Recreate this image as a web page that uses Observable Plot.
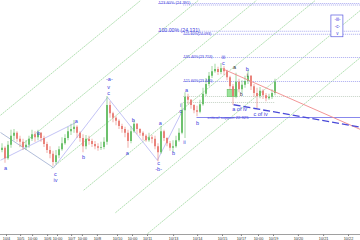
<!DOCTYPE html>
<html><head><meta charset="utf-8">
<script src="https://cdn.jsdelivr.net/npm/d3@7"></script>
<script src="https://cdn.jsdelivr.net/npm/@observablehq/plot@0.6"></script>
<style>body{margin:0;background:#fff;overflow:hidden}svg{display:block}</style>
</head><body><div id="chart"></div>
<script>
// ---- price bars (bar index = position in arrays) ----
const firstOpen = 22.53;
const closes = [22.56,22.42,22.60,22.72,22.76,22.68,22.64,22.57,22.60,22.68,
 22.74,22.70,22.76,22.69,22.61,22.53,22.48,22.37,22.46,22.54,
 22.62,22.69,22.78,22.81,22.84,22.76,22.69,22.58,22.68,22.65,
 22.61,22.58,22.56,22.57,22.64,23.13,23.02,22.96,22.92,22.85,
 22.81,22.76,22.65,22.78,22.88,22.81,22.76,22.72,22.66,22.70,
 22.68,22.58,22.50,22.78,22.69,22.62,22.56,22.58,22.66,22.76,
 23.06,23.24,23.20,23.13,23.06,23.04,23.14,23.28,23.41,23.52,
 23.58,23.61,23.57,23.62,23.58,23.50,23.38,23.25,23.44,23.34,
 23.40,23.45,23.52,23.38,23.29,23.25,23.32,23.26,23.22,23.24,
 23.29,23.44];
const highs = [22.62,22.58,22.65,22.80,22.81,22.78,22.72,22.68,22.66,22.72,
 22.80,22.78,22.80,22.77,22.72,22.64,22.58,22.52,22.53,22.58,
 22.70,22.74,22.84,22.88,22.93,22.86,22.78,22.74,22.73,22.72,
 22.68,22.65,22.62,22.64,22.70,23.25,23.18,23.04,22.98,22.94,
 22.88,22.84,22.80,22.85,22.93,22.89,22.82,22.78,22.74,22.76,
 22.73,22.72,22.62,22.85,22.80,22.70,22.65,22.66,22.72,22.82,
 23.16,23.30,23.28,23.21,23.14,23.12,23.20,23.36,23.49,23.57,
 23.65,23.68,23.64,23.69,23.65,23.60,23.52,23.41,23.56,23.48,
 23.46,23.52,23.60,23.53,23.41,23.36,23.37,23.34,23.29,23.28,
 23.34,23.48];
const lows = [22.50,22.36,22.40,22.56,22.66,22.64,22.58,22.53,22.53,22.56,
 22.65,22.64,22.66,22.64,22.57,22.49,22.42,22.32,22.34,22.42,
 22.52,22.60,22.66,22.73,22.76,22.69,22.64,22.50,22.54,22.60,
 22.57,22.54,22.52,22.53,22.54,22.60,22.96,22.90,22.86,22.81,
 22.76,22.70,22.56,22.62,22.76,22.74,22.72,22.66,22.64,22.64,
 22.62,22.54,22.38,22.48,22.65,22.58,22.52,22.50,22.56,22.64,
 22.74,22.69,23.14,23.08,23.02,22.98,23.02,23.12,23.25,23.38,
 23.49,23.56,23.53,23.54,23.53,23.46,23.33,23.13,23.22,23.30,
 23.29,23.36,23.41,23.33,23.24,23.09,23.22,23.21,23.18,23.20,
 23.21,23.26];

// ---- x axis ----
const tickBars = [1.5,6.2,10.2,15.2,18.5,23.2,26.8,31.8,38.5,43.5,48.5,57.2,65.2,73.5,79.8,85.5,90.5,98.8,107.2,115.5];
const tickLabels = ["10/4","10/5","10:00","10/6","10:00","10/7","10:00","10/8","10/10","10:00","10/11","10/13","10/14","10/15","10/17","10:00","10/19","10/20","10/21","10/22"];

// ---- fibonacci levels ----
const levelPrices = [24.49, 24.47, 24.12, 24.08, 23.77, 23.45];
const levelStart  = [52.2, 60.5, 52.2, 60.5, 60.5, 60.5];
const levelText   = ["123.60% (24.391)", "", "100.00% (24.131)", "121.60%(24.093)", "135.40%(23.753)", "121.60%(23.440)"];
const levelLabelPrice = [24.49, 24.47, 24.12, 24.08, 23.77, 23.45];
const levelSize   = [4, 4, 5.2, 3.6, 3.8, 3.8];
const greyLevels  = [23.25, 23.17];
const greyEnd     = [119.5, 91];
const supportPrice = 22.97;
const supportStart = 65;
const supportText = "critical support 22.925";

// ---- fan lines (green) ----
const fanStartBar   = [-0.5, 5.8, 16.5, 27.2, 37.8, 48.5];
const fanStartPrice = [23.00, 22.58, 22.29, 22.00, 21.70, 21.42];
const fanEndBar     = [46.2, 65.4, 84.8, 104.4, 119.5, 119.5];
const fanEndPrice   = [24.53, 24.53, 24.53, 24.53, 24.40, 23.77];

// ---- wave connectors ----
const waveLineBar1   = [-0.5, -0.5, 17.2, 35.2, 51.8];
const waveLinePrice1 = [22.40, 22.77, 22.30, 23.24, 22.40];
const waveLineBar2   = [24.5, 17.2, 35.2, 51.8, 60.5];
const waveLinePrice2 = [22.90, 22.30, 23.24, 22.40, 23.09];
const waveLineColor  = ["#a9a9f0", "#8fa0c8", "#a9a9f0", "#a9a9f0", "#a9a9f0"];

// ---- trend lines ----
const redLine  = {bar1: 73.5, price1: 23.62, bar2: 119.5, price2: 22.81};
const blueDash = {bar1: 77.2, price1: 23.14, bar2: 119.5, price2: 22.84};

// ---- wave labels ----
const waveText  = ["a","b","c","iv","a","b","-a-","v","c","b","a","a","c","-b-","b","a","i","c","ii","b","iii","c","a","b","b","i","a of iv","c of iv"];
const waveBar   = [1.2,12.2,17.8,17.8,24.8,27.2,35.8,35.5,35.5,43.8,41.8,52.8,52.2,52.2,57.2,61.5,59.5,59.5,60.8,65.2,73.8,73.8,77.5,79.8,81.8,81.8,79.2,86.2];
const wavePrice = [22.30,22.76,22.22,22.13,22.92,22.44,23.48,23.38,23.30,22.93,22.50,22.89,22.36,22.28,22.49,23.34,23.14,23.05,22.64,22.90,23.78,23.69,23.64,23.28,23.62,23.54,23.08,23.01];
const waveColor = ["b","b","b","b","b","b","b","b","b","b","b","b","b","b","b","b","b","b","b","b","b","b","k","k","b","k","b","b"];

// ---- boxes ----
const greenBox = {bar1: 75.2, bar2: 78.5, price1: 23.24, price2: 23.34};
const targetBox = {bar1: 109.8, bar2: 113.8, price1: 24.04, price2: 24.33};
const targetText = ["-iii-", "-c-", "v"];
const targetBar = [111.8, 111.8, 111.8];
const targetPrice = [24.28, 24.18, 24.09];

const BLUE = "#3b3bdc";
const bars = closes.map((c, i) => ({i, open: i ? closes[i-1] : firstOpen, close: c, high: highs[i], low: lows[i]}));
const candleColor = d => d.close >= d.open ? "#62bd62" : "#e87a72";
const levels = levelPrices.map((p, k) => ({p, lp: levelLabelPrice[k], x1: levelStart[k], text: levelText[k], size: levelSize[k]}));
const greys = greyLevels.map((p, k) => ({p, x2: greyEnd[k]}));
const fans = fanStartBar.map((b, k) => ({x1: b, y1: fanStartPrice[k], x2: fanEndBar[k], y2: fanEndPrice[k]}));
const waves = waveLineBar1.map((b, k) => ({x1: b, y1: waveLinePrice1[k], x2: waveLineBar2[k], y2: waveLinePrice2[k], c: waveLineColor[k]}));
const labels = waveText.map((t, k) => ({t, x: waveBar[k], y: wavePrice[k], c: waveColor[k] === "k" ? "#333" : BLUE}));
const targets = targetText.map((t, k) => ({t, x: targetBar[k], y: targetPrice[k]}));
const tickMap = new Map(tickBars.map((b, k) => [b, tickLabels[k]]));

const chart = Plot.plot({
  width: 360, height: 240,
  marginLeft: 0, marginRight: 0, marginTop: 0, marginBottom: 6,
  style: {fontFamily: "Liberation Sans, Arial, sans-serif", background: "#fff"},
  x: {domain: [-0.5, 119.5], axis: null},
  y: {domain: [21.41, 24.53], axis: null},
  marks: [
    Plot.link(fans, {x1: "x1", y1: "y1", x2: "x2", y2: "y2", stroke: "#9fd89f", strokeWidth: 0.8, strokeDasharray: "2,0.7"}),
    Plot.ruleY(levels, {y: "p", x1: "x1", x2: 119.5, stroke: "#9a9aee", strokeWidth: 0.7, strokeDasharray: "1.2,0.8"}),
    Plot.ruleY(greys, {y: "p", x1: 60.5, x2: "x2", stroke: "#b9c9b9", strokeWidth: 0.7, strokeDasharray: "1.2,0.8"}),
    Plot.ruleY([supportPrice], {x1: supportStart, x2: 119.5, stroke: "#6a6ae8", strokeWidth: 0.8}),
    Plot.link(waves, {x1: "x1", y1: "y1", x2: "x2", y2: "y2", stroke: "c", strokeWidth: 0.7}),
    Plot.rect([greenBox], {x1: "bar1", x2: "bar2", y1: "price1", y2: "price2", fill: "#9be39b", stroke: "#5cb85c", strokeWidth: 0.5}),
    Plot.ruleX(bars, {x: "i", y1: "low", y2: "high", stroke: candleColor, strokeWidth: 0.6}),
    Plot.ruleX(bars, {x: "i", y1: "open", y2: "close", stroke: candleColor, strokeWidth: 1.8}),
    Plot.link([redLine], {x1: "bar1", y1: "price1", x2: "bar2", y2: "price2", stroke: "#f08a8a", strokeWidth: 0.9}),
    Plot.link([blueDash], {x1: "bar1", y1: "price1", x2: "bar2", y2: "price2", stroke: "#4a4ad8", strokeWidth: 1.3, strokeDasharray: "7,3"}),
    Plot.text(levels, {x: "x1", y: "lp", text: "text", fontSize: "size", fill: BLUE, textAnchor: "start", lineAnchor: "bottom", dy: 0.6}),
    Plot.text([supportText], {x: supportStart + 3.5, y: supportPrice, text: d => d, fontSize: 4.2, fill: BLUE, textAnchor: "start", lineAnchor: "top", dy: -1.5}),
    Plot.text(labels, {x: "x", y: "y", text: "t", fill: "c", fontSize: 5.5}),
    Plot.rect([targetBox], {x1: "bar1", x2: "bar2", y1: "price1", y2: "price2", fill: "#fff", stroke: "#5a5ae0", strokeWidth: 0.7}),
    Plot.text(targets, {x: "x", y: "y", text: "t", fill: BLUE, fontSize: 4.5}),
    Plot.frame({anchor: "bottom", stroke: "#888", strokeWidth: 0.8}),
    Plot.axisX({ticks: tickBars, tickFormat: d => tickMap.get(d), tickSize: 2, tickPadding: 0.5, fontSize: 3.8, stroke: "#888", fill: "#333", label: null})
  ]
});
document.getElementById("chart").appendChild(chart);
</script>
</body></html>
